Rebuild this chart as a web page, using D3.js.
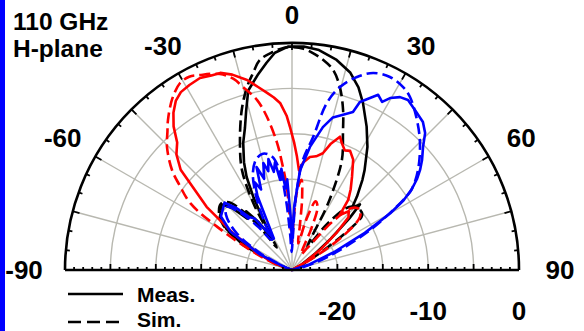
<!DOCTYPE html>
<html><head><meta charset="utf-8">
<script src="https://cdn.jsdelivr.net/npm/d3@7"></script>
<style>html,body{margin:0;padding:0;background:#fff;} svg{display:block;font-family:"Liberation Sans",Arial,sans-serif;font-weight:bold;}</style>
</head><body><svg id="c" width="584" height="331"></svg>
<script>
const angleLabels=[-90,-60,-30,0,30,60,90];
const dbLabels=[-20,-10,0];
const dbGrid=[-20,-15,-10,-5];
const angleGrid=[-75,-60,-45,-30,-15,0,15,30,45,60,75];
const titleLines=["110 GHz","H-plane"];
const legendNames=["Meas.","Sim."];

// [angle (deg), level (dB)]
const blackMeas=[[-90,-25],[-75,-24.5],[-68,-23],[-63,-19],[-58,-16.5],[-54,-15.2],[-50,-14.8],[-47,-14.4],[-44,-15.5],[-41,-17.5],[-38,-16.8],[-35,-18.5],[-32,-21],[-30,-19],[-28,-16],[-26,-13.6],[-24,-12],[-21,-10],[-18.3,-8.5],[-16,-6.7],[-13.7,-4.65],[-10,-3.2],[-7,-2],[-4.5,-1.0],[-1,-0.4],[3,-0.35],[7,-0.6],[12,-1.35],[16.5,-2.35],[20,-3.6],[23,-5.0],[27.5,-7.2],[31.5,-9.1],[36,-11.4],[38,-12.4],[41.5,-14.2],[44,-15.5],[46,-14.6],[48,-16.5],[51,-19.5],[55,-22],[62,-24],[75,-25],[90,-25]];
const blackSim=[[-90,-25],[-75,-25],[-68,-23],[-62,-19],[-57,-16],[-52,-14.8],[-47,-14.3],[-43,-14.8],[-40,-16.5],[-37,-19],[-34,-22],[-32,-20],[-30,-16.5],[-26.6,-12.7],[-22.3,-9.9],[-17.4,-6.5],[-13.8,-4.24],[-11.2,-2.9],[-8.7,-1.6],[-5,-0.9],[-2,-0.5],[0,-0.45],[3,-0.6],[6,-1.1],[8.4,-1.6],[11.6,-2.5],[14.7,-4.2],[17.7,-6.5],[20.4,-8.9],[24.4,-11.7],[27.5,-15.4],[29,-17.5],[31,-21],[34,-22],[37,-19],[41,-16],[44,-15.3],[48,-15],[52,-15.2],[55,-17.5],[58,-21],[63,-24],[75,-25],[90,-25]];
const redMeas=[[-90,-25],[-75,-24.5],[-68,-22.5],[-63,-20.5],[-58,-17.3],[-53.5,-13.3],[-48,-8.5],[-45,-7],[-42,-6.1],[-39.5,-4.5],[-37,-3.3],[-34.5,-2.4],[-32,-1.9],[-29,-1.7],[-25.6,-1.55],[-22.5,-1.8],[-20,-1.9],[-17,-2.5],[-13.3,-3.5],[-10.5,-4.5],[-8,-5.3],[-6,-5.9],[-4,-6.6],[-2,-8],[-0.8,-9.25],[1,-11],[2.5,-12.5],[4,-14],[5.9,-13.1],[9,-12.4],[12,-12.2],[14.8,-11.7],[17,-10.5],[19.8,-9.4],[21.5,-10],[23.8,-10.6],[26,-10.4],[29,-11.1],[32.8,-12.8],[36,-14],[38.7,-15.1],[41,-17],[44,-16],[47,-16.5],[50,-18.5],[54,-21],[60,-23.5],[70,-25],[90,-25]];
const redSim=[[-90,-25],[-75,-24.5],[-70,-23],[-65,-20.3],[-60,-15.5],[-56.7,-11.6],[-53,-9.5],[-50.2,-7.8],[-45.5,-5.7],[-42,-4.5],[-39.6,-3.57],[-35,-2.0],[-30.9,-1.0],[-28,-0.9],[-25.3,-1.25],[-20.2,-2.0],[-17,-3.0],[-15,-4.14],[-11.6,-5.9],[-9.3,-7.9],[-6.7,-10.9],[-5.3,-13.2],[-3.5,-16],[-2,-20],[0,-22],[2,-19],[4,-16],[6,-15],[8,-17],[10,-20],[13,-22],[16,-19],[19,-17],[22,-17.5],[25,-20],[30,-23],[35,-22],[40,-18],[44,-15.5],[48,-15],[52,-15.5],[56,-18],[60,-22],[65,-24.5],[90,-25]];
const blueMeas=[[-90,-25],[-72,-24.5],[-64,-21],[-58,-17],[-53,-15.2],[-48,-14.8],[-45,-14.5],[-42,-15.8],[-39,-17.5],[-36,-18],[-33,-20],[-30,-21],[-27,-19],[-25,-16],[-23,-14.5],[-21,-15.5],[-19,-13],[-17,-14.5],[-15,-12.8],[-13.5,-13.8],[-12,-12.5],[-10.5,-14],[-9,-13],[-7.5,-15],[-6,-13.8],[-4.5,-16],[-3,-15],[-1.5,-19],[0,-22],[2,-18],[4.6,-14],[8.3,-11.3],[12.2,-8.9],[15,-7.6],[18.2,-7.0],[21.1,-6.35],[22,-5.04],[24.4,-4.2],[26.2,-3.5],[28.2,-4.0],[29.7,-3.2],[32,-2.55],[34.3,-2.33],[37.6,-2.78],[41.5,-3.24],[44.2,-3.97],[46.8,-5.2],[49.8,-6.25],[52,-7.1],[54,-8],[56,-9.1],[58,-10.5],[60,-12.5],[63,-16],[67,-20],[72,-23],[80,-25],[90,-25]];
const blueSim=[[-90,-25],[-70,-24.5],[-62,-21],[-56,-17.5],[-50,-15.5],[-46,-15],[-42,-16.5],[-38,-19],[-34,-21],[-30,-19],[-26,-16],[-22,-13.5],[-18,-12.2],[-14,-11.8],[-10,-12.3],[-7,-14],[-5,-17],[-3,-21],[-1,-23],[1,-22],[3,-17],[5.7,-12.8],[9,-10.2],[11.8,-6.2],[14.7,-4.16],[18.6,-2.57],[22.4,-1.54],[26.9,-1.16],[31.2,-1.43],[34.3,-1.94],[39.8,-3.5],[45.2,-5.14],[51.6,-7.3],[56,-9.1],[57.8,-10.5],[59.8,-12.5],[62.9,-15.3],[67.4,-19.3],[72,-22.1],[80,-24.5],[90,-25]];

const W=584,H=331,cx=292,cy=270,R=227;
const r=d3.scaleLinear().domain([-25,0]).range([0,R]).clamp(true);
const rad=a=>a*Math.PI/180;
const svg=d3.select("#c");
svg.append("rect").attr("width",W).attr("height",H).attr("fill","#fff");
svg.append("rect").attr("x",0).attr("y",0).attr("width",5).attr("height",H).attr("fill","#0000ff");

const g=svg.append("g").attr("transform",`translate(${cx},${cy})`);
const halfArc=rr=>{const p=d3.path();p.moveTo(-rr,0);p.arc(0,0,rr,Math.PI,2*Math.PI);return p.toString();};
const gridColor="#b8b8b0";
// grid
dbGrid.forEach(d=>g.append("path").attr("d",halfArc(r(d))).attr("fill","none").attr("stroke",gridColor).attr("stroke-width",1.4));
angleGrid.forEach(a=>g.append("line").attr("x1",0).attr("y1",0)
  .attr("x2",R*Math.sin(rad(a))).attr("y2",-R*Math.cos(rad(a))).attr("stroke",gridColor).attr("stroke-width",1.4));

// series
const lineMeas=d3.lineRadial().angle(d=>rad(d[0])).radius(d=>r(d[1])).curve(d3.curveLinear);
const lineSim=d3.lineRadial().angle(d=>rad(d[0])).radius(d=>r(d[1])).curve(d3.curveCatmullRom.alpha(0.5));
const series=[
  {data:blackSim,color:"#000",sim:true},{data:blackMeas,color:"#000",sim:false},
  {data:redSim,color:"#ff0000",sim:true},{data:redMeas,color:"#ff0000",sim:false},
  {data:blueSim,color:"#0000ff",sim:true},{data:blueMeas,color:"#0000ff",sim:false}];
series.forEach(s=>g.append("path").attr("d",(s.sim?lineSim:lineMeas)(s.data))
  .attr("fill","none").attr("stroke",s.color).attr("stroke-width",2.6)
  .attr("stroke-dasharray",s.sim?"11,5":null).attr("stroke-linejoin","round"));

// axes
g.append("path").attr("d",halfArc(R)).attr("fill","none").attr("stroke","#000").attr("stroke-width",2.6);
g.append("line").attr("x1",-R).attr("x2",R).attr("y1",0).attr("y2",0).attr("stroke","#000").attr("stroke-width",2.6);
for(let a=-85;a<=85;a+=5){
  const len=(a%15===0)?7:4, s=Math.sin(rad(a)), c=Math.cos(rad(a));
  g.append("line").attr("x1",R*s).attr("y1",-R*c).attr("x2",(R-len)*s).attr("y2",-(R-len)*c).attr("stroke","#000").attr("stroke-width",1.8);
}
for(let d=-24;d<=-1;d++){
  const len=(d%5===0)?6:3;
  [-1,1].forEach(sg=>g.append("line").attr("x1",sg*r(d)).attr("x2",sg*r(d)).attr("y1",0).attr("y2",-len).attr("stroke","#000").attr("stroke-width",1.8));
}
// angle labels
angleLabels.forEach(a=>{
  const s=Math.sin(rad(a)), c=Math.cos(rad(a)), rr=R+28+13*s*s;
  g.append("text").attr("x",rr*s).attr("y",-rr*c+9).attr("text-anchor","middle")
   .attr("font-size",26).attr("fill","#000").text(a);
});
// radial labels
dbLabels.forEach(d=>g.append("text").attr("x",r(d)).attr("y",50).attr("text-anchor","middle")
  .attr("font-size",26).attr("fill","#000").text(d));
// title
titleLines.forEach((t,i)=>svg.append("text").attr("x",13).attr("y",30+i*27).attr("font-size",24.5).attr("fill","#000").text(t));
// legend
legendNames.forEach((t,i)=>{
  const y=294+i*28;
  svg.append("line").attr("x1",68).attr("x2",123).attr("y1",y).attr("y2",y).attr("stroke","#000")
    .attr("stroke-width",2.6).attr("stroke-dasharray",i===1?"13,6":null);
  svg.append("text").attr("x",137).attr("y",i===0?302:327).attr("font-size",21).attr("fill","#000").text(t);
});
</script></body></html>
